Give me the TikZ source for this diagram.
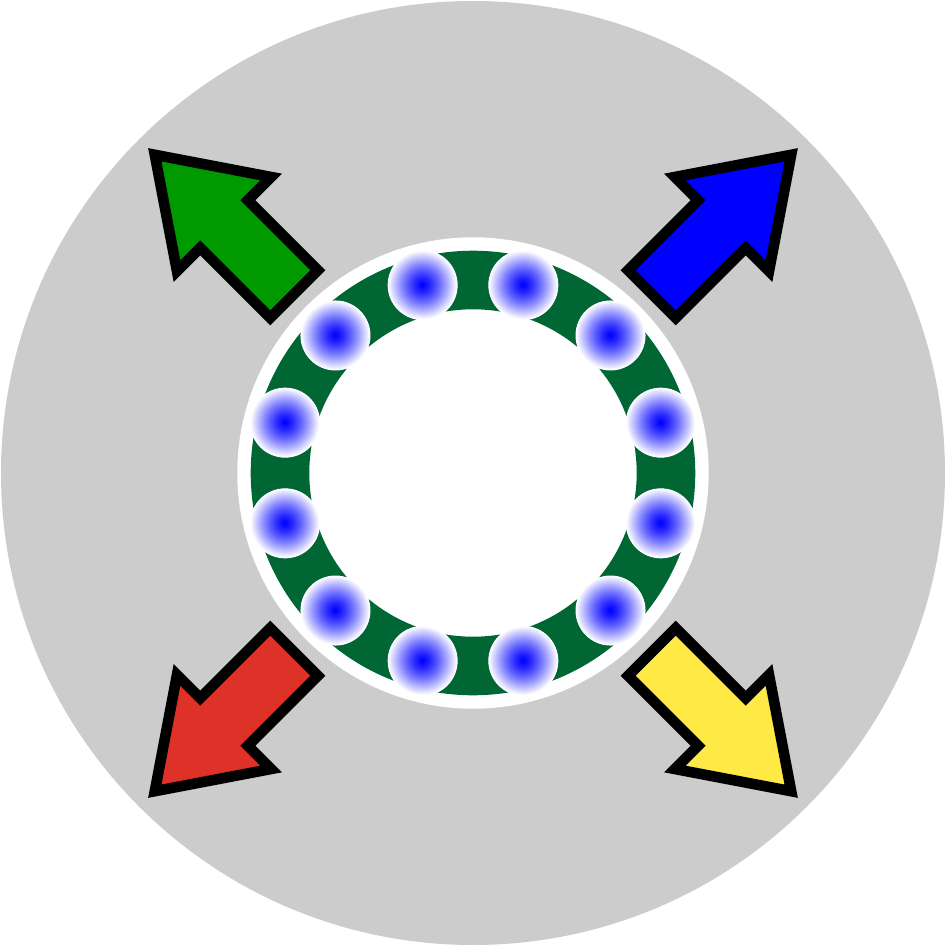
\documentclass[tikz,border=0pt]{standalone}
\definecolor{diskgray}{HTML}{CCCCCC}
\definecolor{ringgreen}{HTML}{006633}
\definecolor{arrgreen}{HTML}{009900}
\definecolor{arrblue}{HTML}{0000FF}
\definecolor{arrred}{HTML}{DE3127}
\definecolor{arryellow}{HTML}{FFEA45}
\tikzset{
  bigarrow/.style={draw=black, line width=10.6pt, line join=miter, miter limit=10}
}
\begin{document}
\begin{tikzpicture}[x=1pt,y=1pt]
\useasboundingbox (-473,-473) rectangle (473,473);
\fill[diskgray] (0,0) circle (472);
\fill[white] (0,0) circle (235.7);
\fill[ringgreen, even odd rule] (0,0) circle (222.3) (0,0) circle (163.7);
\foreach \a in {15,45,...,345}{
  \coordinate (b) at (\a:194.5);
  \fill[white] (b) circle (35);
  \foreach \i in {2,...,69}{
    \pgfmathsetmacro{\r}{35.5-0.5*\i}
    \pgfmathsetmacro{\p}{max(0,min(100,100*(1-(\r/34.5)^1.25)))}
    \fill[blue!\p!white] (b) circle (\r);
  }
}
\foreach \ang/\col in {135/arrgreen,45/arrblue,225/arrred,315/arryellow}
  \draw[bigarrow, fill=\col, rotate=\ang] (253,-33.6) -- (352,-33.6) -- (352,-66.6) -- (450,0) -- (352,66.6) -- (352,33.6) -- (253,33.6) -- cycle;
\end{tikzpicture}
\end{document}
